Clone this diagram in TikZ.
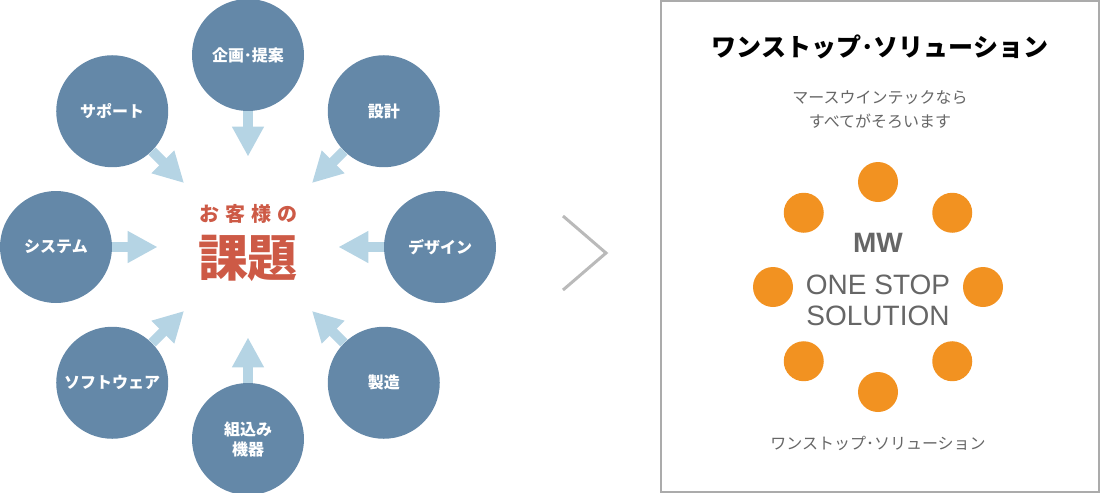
\documentclass[tikz,border=0pt]{standalone}
\usepackage{fontspec}
\usetikzlibrary{arrows.meta}
\setmainfont{Liberation Sans}
\newfontfamily\jp{Noto Sans CJK JP}

\definecolor{satblue}{HTML}{6488A8}
\definecolor{flowblue}{HTML}{B5D4E4}
\definecolor{issuered}{HTML}{CD5A46}
\definecolor{dotorange}{HTML}{F29221}
\definecolor{textgray}{HTML}{666666}

\begin{document}
\begin{tikzpicture}[x=0.5pt, y=-0.5pt, >={Triangle[width=15pt,length=15pt]},
  sat/.style={circle, fill=satblue, minimum size=56pt, inner sep=0pt, text=white,
    font=\jp\bfseries\fontsize{8}{10}\selectfont, align=center},
  flow/.style={->, line width=5pt, draw=flowblue},
  dot/.style={circle, fill=dotorange, minimum size=20pt, inner sep=0pt}]

\useasboundingbox (0,0) rectangle (1100,493);

% ==== CENTRE ====
\node[circle, minimum size=90pt, inner sep=0pt] (hub) at (248,247) {};
\node[text=issuered, font=\jp\bfseries\fontsize{10}{12}\selectfont] (guest) at (248,214)
    {お\hspace{3pt}客\hspace{3pt}様\hspace{3pt}の};
\node[text=issuered, font=\jp\bfseries\fontsize{25}{28}\selectfont] (issue) at (248,258) {課題};

% ==== SATELLITES + ARROWS ====
\begin{scope}[shift={(248,247)}]
\foreach \i/\ang/\txt in {1/270/企画･提案, 2/315/設計, 3/0/デザイン, 4/45/製造,
                          5/90/{組込み\\機器}, 6/135/ソフトウェア, 7/180/システム, 8/225/サポート}{
    \node[sat] (s\i) at (\ang:192) {\txt};
    \draw[flow] (s\i) -- (hub);
}
\end{scope}

% ==== CHEVRON ====
\draw[line width=1.5pt, draw=black!27] (563,216) -- (606,253) -- (563,290);

% ==== ONE STOP PANEL ====
\draw[draw=black!33, line width=0.6pt] (661,1) rectangle (1099,492);

\node[font=\jp\bfseries\fontsize{12.5}{14}\selectfont] (title) at (880,47) {ワンストップ･ソリューション};
\node[text=textgray, font=\jp\fontsize{8}{12}\selectfont, align=center] (lead) at (880,110)
    {マースウインテックなら\\すべてがそろいます};

\begin{scope}[shift={(878,287)}]
\foreach \ang in {0,45,...,315}{
    \node[dot] (d\ang) at (\ang:105) {};
}
\end{scope}

\node[text=textgray, font=\bfseries\fontsize{14}{16}\selectfont] (mw) at (878,243) {MW};
\node[text=textgray, font=\fontsize{14}{15.5}\selectfont, align=center] (slogan) at (878,300)
    {ONE STOP\\SOLUTION};

\node[text=textgray, font=\jp\fontsize{8}{10}\selectfont] (foot) at (878,443) {ワンストップ･ソリューション};

\end{tikzpicture}
\end{document}
